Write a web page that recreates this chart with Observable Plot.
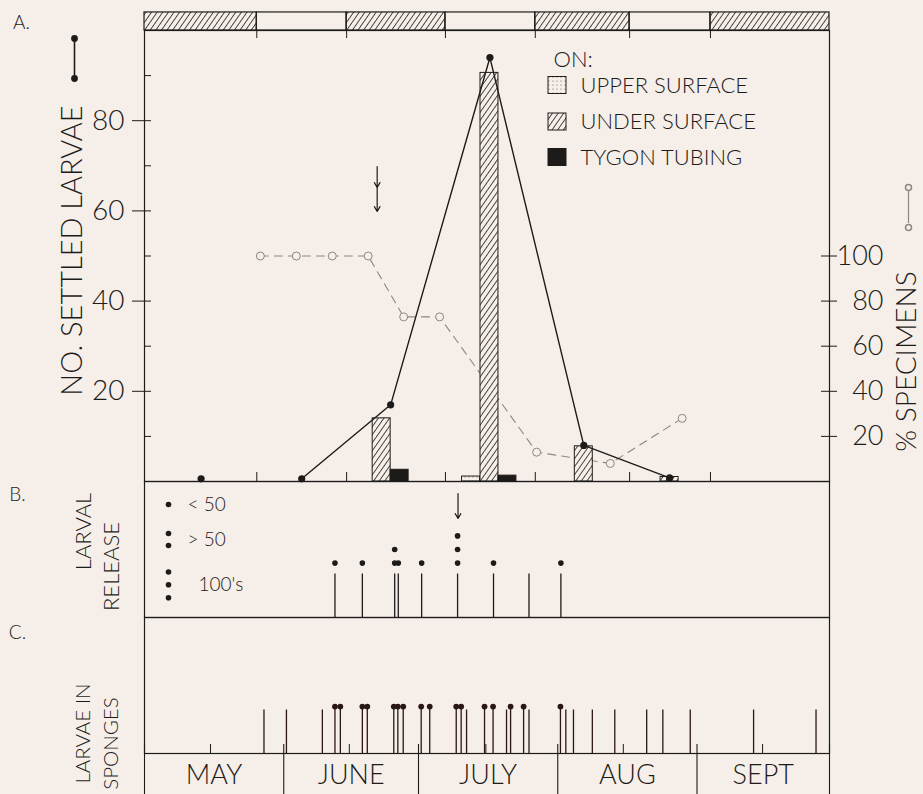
<!DOCTYPE html>
<html><head><meta charset="utf-8">
<script src="https://cdn.jsdelivr.net/npm/d3@7"></script>
<script src="https://cdn.jsdelivr.net/npm/@observablehq/plot@0.6"></script>
<style>
body{margin:0;background:#f6efe9;}
#chart{position:relative;width:923px;height:794px;overflow:hidden;background:#f6efe9;}
#chart svg{position:absolute;left:0;overflow:visible;}
</style></head><body><div id="chart"></div>
<script>
// ---------------- DATA ----------------
// x axis: days counted from 1 May (1 May = 0)
const monthNames  = ["MAY", "JUNE", "JULY", "AUG", "SEPT"];
const monthStarts = [0, 31, 61, 92, 123];
const seasonEnd   = 152.5;
const midMonthTicks = [14.7, 45.6, 76, 106.6, 137.6];

// top band: alternating periods
const bandEdges   = [0, 25, 45, 67, 87, 108, 126, 152.5];
const bandHatched = [true, false, true, false, true, false, true];

// Panel A: number of settled larvae (total, left axis)
const settledDays  = [12.6, 35.0, 54.8, 76.9, 97.8, 116.9];
const settledTotal = [0.6, 0.6, 17, 94, 8, 0.8];
// bars: settled larvae by substrate at each sampling
const sampleDays   = [52.8, 76.8, 97.8, 116.9];
const upperSurface = [0, 1.1, 0, 0];
const underSurface = [14, 90.6, 7.8, 1];
const tygonTubing  = [2.6, 1.3, 0, 0];
// % specimens (right axis)
const specimenDays = [25.8, 33.8, 41.8, 49.8, 57.7, 65.7, 87.3, 103.7, 119.7];
const specimenPct  = [100, 100, 100, 100, 73, 73, 13, 8, 28];
const countTicks = [20, 40, 60, 80];
const pctTicks   = [20, 40, 60, 80, 100];
const legendA = ["UPPER SURFACE", "UNDER SURFACE", "TYGON TUBING"];

// Panel B: larval release (1: <50, 2: >50, 3: 100's, 0: not scored)
const releaseDays  = [42.4, 48.5, 55.7, 56.5, 61.7, 69.7, 77.7, 85.6, 92.7];
const releaseLevel = [1, 1, 2, 1, 1, 3, 1, 0, 1];
const releaseLegend = ["< 50", "> 50", "100's"];

// Panel C: larvae in sponges (dot = marked sample)
const spongeDays = [26.6, 31.6, 39.6, 42.4, 43.6, 48.5, 49.6, 55.5, 56.4, 57.6, 61.6, 63.5,
  69.4, 70.5, 71.7, 75.7, 77.6, 80.6, 81.5, 84.4, 85.6, 92.6, 93.8, 95.5, 99.7, 104.7,
  111.8, 115.4, 121.5, 135.6, 149.5];
const spongeDot = [0,0,0,1,1,1,1,1,1,1,1,1, 1,1,0,1,1,0,1,1,0,1,0,0,0,0, 0,0,0,0,0];

// annotation arrows (day)
const arrowADay = 51.8;
const arrowBDay = 69.8;

// ---------------- LAYOUT ----------------
const W = 923, XL = 144, XR = 829;
const ppd = (XR - XL) / seasonEnd;
const dayAt = px => (px - XL) / ppd;
const valA = py => (481 - py) / 4.51;   // panel A y (abs px -> value)
const valB = py => (617 - py) / 13.6;   // panel B
const valC = py => (753 - py) / 13.6;   // panel C
const INK = "#1d1b1a", GRAY = "#8b8784", BG = "#f6efe9";
const FONT = "Lato, 'Open Sans', sans-serif";
const style = {background: "none", fontFamily: FONT, color: INK, overflow: "visible", fontWeight: 300};
const xOpt = {domain: [0, seasonEnd], axis: null};

const bandRows = bandHatched.map((h, i) => ({start: bandEdges[i], end: bandEdges[i + 1], hatched: h}));
const innerEdges = bandEdges.slice(1, -1);
const settled = settledDays.map((day, i) => ({day, n: settledTotal[i]}));
const bw = 4.0;
const bars = sampleDays.flatMap((day, i) => [
  {type: "upper", day: day - 4.1, n: upperSurface[i]},
  {type: "under", day, n: underSurface[i]},
  {type: "tygon", day: day + 4.0, n: tygonTubing[i]}
]).filter(d => d.n > 0);
const fills = {upper: "url(#dots)", under: "url(#hatch)", tygon: INK};
const specimens = specimenDays.map((day, i) => ({day, pct: specimenPct[i]}));

const T = (str, x, y, opts) => Plot.text([str], {x, y, text: d => d, ...opts});

const legendRows = legendA.map((label, i) => ({label, type: ["upper", "under", "tygon"][i], cy: [85, 121.5, 157][i]}));

// ---------------- PANEL A ----------------
const A = Plot.plot({
  width: W, height: 482, marginTop: 30, marginBottom: 1, marginLeft: XL, marginRight: W - XR,
  x: xOpt, y: {domain: [0, 100], axis: null}, style,
  marks: [
    Plot.rect(bandRows.filter(d => d.hatched), {x1: "start", x2: "end", y1: 100, y2: 104, fill: "url(#hatch)"}),
    Plot.rect(bandRows, {x1: "start", x2: "end", y1: 100, y2: 104, fill: "none", stroke: INK, strokeWidth: 1.2}),
    Plot.ruleX(innerEdges, {y1: 100 - 8 / 4.51, y2: 100, stroke: INK}),
    Plot.ruleX(innerEdges, {y1: 0, y2: 9 / 4.51, stroke: INK}),
    // left axis
    Plot.ruleY(d3.range(10, 100, 10), {x1: 0, x2: 7 / ppd, stroke: INK}),
    Plot.ruleY(countTicks, {x1: -12 / ppd, x2: 0, stroke: INK}),
    Plot.text(countTicks, {x: 0, y: d => d, text: d => String(d), textAnchor: "end", dx: -20, fontSize: 28}),
    // right axis (% specimens, 100% = 50 on left)
    Plot.ruleY(pctTicks, {y: d => d / 2, x1: seasonEnd - 8 / ppd, x2: seasonEnd + 8 / ppd, stroke: INK}),
    Plot.text(pctTicks, {x: seasonEnd, y: d => d / 2, text: d => String(d), textAnchor: "end", dx: 54, fontSize: 27}),
    // % specimens
    Plot.line(specimens, {x: "day", y: d => d.pct / 2, stroke: GRAY, strokeWidth: 1.1, strokeDasharray: "8,6"}),
    Plot.dot(specimens, {x: "day", y: d => d.pct / 2, r: 4, stroke: GRAY, fill: BG, strokeWidth: 1}),
    // bars
    Plot.rect(bars, {x1: d => d.day - bw / 2, x2: d => d.day + bw / 2, y1: 0, y2: "n",
      fill: d => fills[d.type], stroke: INK, strokeWidth: 1}),
    // settled larvae (sampling begins with the 2nd point)
    Plot.line(settled.slice(1), {x: "day", y: "n", stroke: INK, strokeWidth: 1.4}),
    Plot.dot(settled, {x: "day", y: "n", r: 3.6, fill: INK}),
    // arrow
    Plot.arrow([arrowADay], {x1: d => d, x2: d => d, y1: valA(166), y2: valA(187), stroke: INK, strokeWidth: 1.2, headLength: 7}),
    Plot.arrow([arrowADay], {x1: d => d, x2: d => d, y1: valA(187), y2: valA(211), stroke: INK, strokeWidth: 1.2, headLength: 7}),
    Plot.frame({stroke: INK, strokeWidth: 1.2}),
    // legend
    T("ON:", dayAt(553), valA(59), {textAnchor: "start", fontSize: 22}),
    Plot.rect(legendRows, {x1: dayAt(548), x2: dayAt(566), y1: d => valA(d.cy - 8.5), y2: d => valA(d.cy + 8.5),
      fill: d => fills[d.type], stroke: INK, strokeWidth: 1}),
    Plot.text(legendRows, {x: dayAt(580), y: d => valA(d.cy), text: "label", textAnchor: "start", fontSize: 22,
      letterSpacing: "0.6px"}),
    // left labels
    T("A.", dayAt(21), valA(22), {fontSize: 19}),
    T("NO. SETTLED LARVAE", dayAt(72), valA(250), {rotate: -90, fontSize: 29}),
    Plot.ruleX([dayAt(74)], {y1: valA(38), y2: valA(78), stroke: INK, strokeWidth: 1.6}),
    Plot.dot([valA(38), valA(78)], {x: dayAt(74), y: d => d, r: 3.4, fill: INK}),
    // right label
    T("% SPECIMENS", dayAt(907), valA(361), {rotate: -90, fontSize: 28}),
    Plot.ruleX([dayAt(908)], {y1: valA(191), y2: valA(223), stroke: GRAY, strokeWidth: 1.2}),
    Plot.dot([valA(187), valA(227)], {x: dayAt(908), y: d => d, r: 3, stroke: GRAY, fill: BG})
  ]
});
A.insertAdjacentHTML("afterbegin", `<defs>
<pattern id="hatch" patternUnits="userSpaceOnUse" width="4.6" height="4.6" patternTransform="rotate(35)">
<rect width="4.6" height="4.6" fill="${BG}"/><line x1="2.3" y1="0" x2="2.3" y2="4.6" stroke="#3a3633" stroke-width="0.9"/></pattern>
<pattern id="dots" patternUnits="userSpaceOnUse" width="4" height="4">
<rect width="4" height="4" fill="${BG}"/><circle cx="1" cy="1" r="0.55" fill="#555"/></pattern></defs>`);
A.style.top = "0px";

// ---------------- PANEL B ----------------
const release = releaseDays.map((day, i) => ({day, level: releaseLevel[i]}));
const releaseDots = release.flatMap(d => d3.range(d.level).map(k => ({day: d.day, y: 4 + k})));
const legendBDots = [[504], [533, 545], [571.5, 584.3, 597.3]];
const legendBText = [504, 539.5, 584];
const B = Plot.plot({
  width: W, height: 136, marginTop: 0, marginBottom: 0, marginLeft: XL, marginRight: W - XR,
  x: xOpt, y: {domain: [0, 10], axis: null}, style,
  marks: [
    Plot.frame({stroke: INK, strokeWidth: 1.2}),
    Plot.ruleX(release, {x: "day", y1: 0, y2: 3.2, stroke: INK, strokeWidth: 1.3}),
    Plot.dot(releaseDots, {x: "day", y: "y", r: 2.8, fill: INK}),
    Plot.arrow([arrowBDay], {x1: d => d, x2: d => d, y1: valB(493), y2: valB(518), stroke: INK, strokeWidth: 1.2, headLength: 7}),
    Plot.dot(legendBDots.flat(), {x: dayAt(168), y: d => valB(d), r: 2.8, fill: INK}),
    Plot.text(releaseLegend, {x: (d, i) => dayAt(i === 2 ? 198 : 187), y: (d, i) => valB(legendBText[i]),
      text: d => d, textAnchor: "start", fontSize: 19}),
    T("B.", dayAt(17), valB(494), {fontSize: 19}),
    T("LARVAL", dayAt(83), valB(531), {rotate: -90, fontSize: 22}),
    T("RELEASE", dayAt(111), valB(566), {rotate: -90, fontSize: 22})
  ]
});
B.style.top = "481px";

// ---------------- PANEL C ----------------
const sponges = spongeDays.map((day, i) => ({day, dot: spongeDot[i] === 1}));
const monthRows = monthNames.map((name, i) => ({name, mid: (monthStarts[i] + (monthStarts[i + 1] ?? seasonEnd)) / 2}));
const C = Plot.plot({
  width: W, height: 177, marginTop: 0, marginBottom: 41, marginLeft: XL, marginRight: W - XR,
  x: xOpt, y: {domain: [0, 10], axis: null}, style,
  marks: [
    Plot.frame({stroke: INK, strokeWidth: 1.2}),
    Plot.ruleX(sponges, {x: "day", y1: 0, y2: d => d.dot ? 3.45 : 3.2, stroke: "#2a1715", strokeWidth: 1.3}),
    Plot.dot(sponges.filter(d => d.dot), {x: "day", y: 3.45, r: 2.9, fill: "#2a1715"}),
    Plot.ruleX(midMonthTicks, {y1: 0, y2: 0.66, stroke: INK}),
    Plot.ruleX([...monthStarts, seasonEnd], {y1: 0.66, y2: -3.1, stroke: INK, strokeWidth: 1.1}),
    Plot.text(monthRows, {x: "mid", y: valC(775), text: "name", fontSize: 27}),
    T("C.", dayAt(17), valC(632), {fontSize: 19}),
    T("LARVAE IN", dayAt(83), valC(733), {rotate: -90, fontSize: 20.5}),
    T("SPONGES", dayAt(111), valC(743), {rotate: -90, fontSize: 20.5})
  ]
});
C.style.top = "617px";

const chart = document.getElementById("chart");
chart.append(A, B, C);
</script></body></html>
